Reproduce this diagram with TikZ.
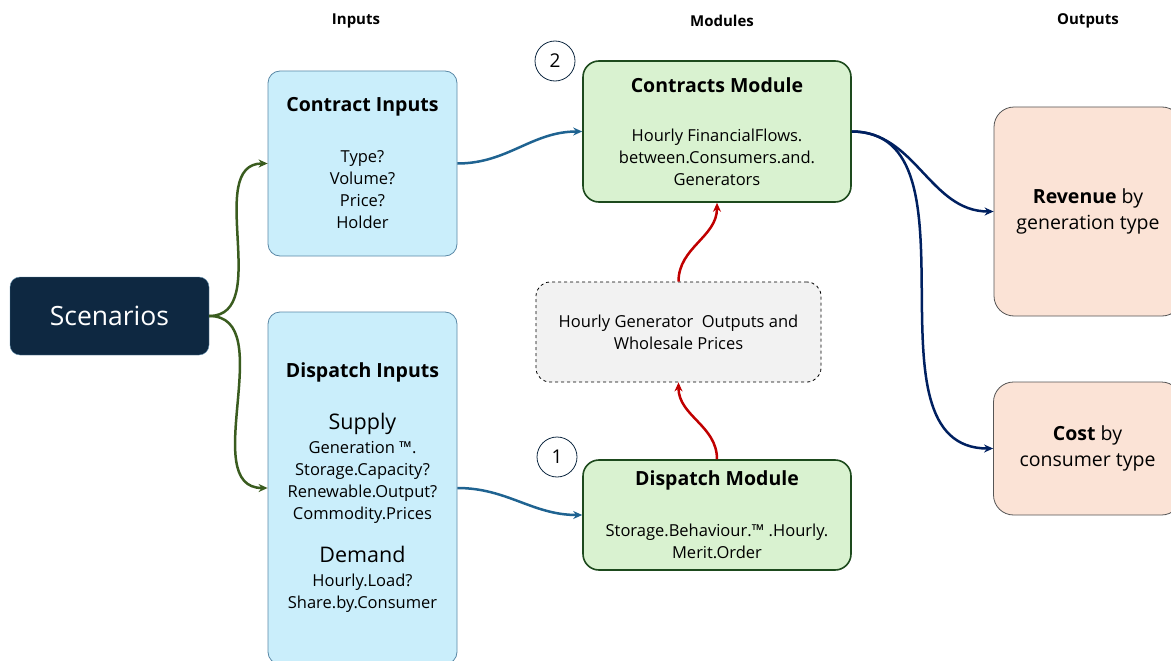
\documentclass[tikz,border=0pt]{standalone}
\usepackage{fontspec}
\usepackage{tikz}
\usepackage{color}
\setmainfont{Open Sans}
\usetikzlibrary{arrows.meta}

\definecolor{scenfill}{HTML}{0E2841}
\definecolor{infill}{HTML}{CAEEFB}
\definecolor{inedge}{HTML}{5A88A6}
\definecolor{modfill}{HTML}{D9F2D0}
\definecolor{modedge}{HTML}{1D4A1D}
\definecolor{outfill}{HTML}{FBE3D6}
\definecolor{outedge}{HTML}{555555}
\definecolor{midfill}{HTML}{F2F2F2}
\definecolor{greenflow}{HTML}{3A5C1F}
\definecolor{blueflow}{HTML}{1F6391}
\definecolor{redflow}{HTML}{C00000}
\definecolor{navyflow}{HTML}{002060}

\begin{document}
\begin{tikzpicture}[x=1pt,y=-1pt,
  inbox/.style={draw=inedge,fill=infill,rounded corners=12pt,line width=0.8pt,
    align=center,inner sep=0pt,minimum width=189pt,
    font=\fontsize{16.5}{22}\selectfont},
  modbox/.style={draw=modedge,fill=modfill,rounded corners=16pt,line width=1.6pt,
    align=center,inner sep=0pt,minimum width=268pt,
    font=\fontsize{16.5}{22}\selectfont},
  outbox/.style={draw=outedge,fill=outfill,rounded corners=20pt,line width=0.8pt,
    align=center,inner sep=0pt,minimum width=188pt,
    font=\fontsize{19.5}{26}\selectfont},
  numcirc/.style={circle,draw=scenfill,line width=0.8pt,minimum size=40pt,
    inner sep=0pt,font=\fontsize{19}{20}\selectfont},
  colhead/.style={font=\bfseries\fontsize{15}{17}\selectfont},
  feed/.style={line width=2.5pt,-{Stealth[length=9pt,width=8pt]}},
  ]
  \useasboundingbox (0,0) rectangle (1171,661);

  \node[colhead] (hin)  at (356,21)  {Inputs};
  \node[colhead] (hmod) at (722,21)  {Modules};
  \node[colhead] (hout) at (1088,21) {Outputs};

  \node[fill=scenfill,draw=inedge,rounded corners=10pt,minimum width=199pt,
    minimum height=78pt,text=white,font=\fontsize{26.5}{30}\selectfont]
    (scen) at (109.5,316) {Scenarios};

  % input boxes
  \node[inbox,minimum height=185pt] (cin) at (362.5,163.5)
    {{\fontsize{19.5}{22}\selectfont\bfseries Contract Inputs}\\[29pt]
     Type?\\Volume?\\Price?\\Holder};
  \node[inbox,minimum height=352pt] (din) at (362.5,488)
    {{\fontsize{19.5}{22}\selectfont\bfseries Dispatch Inputs}\\[30pt]
     {\fontsize{21.5}{22}\selectfont Supply}\\[2pt]
     Generation ™.\\Storage.Capacity?\\Renewable.Output?\\Commodity.Prices\\[21pt]
     {\fontsize{21.5}{22}\selectfont Demand}\\[2pt]
     Hourly.Load?\\Share.by.Consumer};

  % modules
  \node[modbox,minimum height=141pt] (cmod) at (717,131.5)
    {{\fontsize{19.5}{22}\selectfont\bfseries Contracts Module}\\[27pt]
     Hourly FinancialFlows.\\between.Consumers.and.\\Generators};
  \node[modbox,minimum height=110pt] (dmod) at (717,515)
    {{\fontsize{19.5}{22}\selectfont\bfseries Dispatch Module}\\[29pt]
     Storage.Behaviour.™ .Hourly.\\Merit.Order};
  \node[draw,dashed,fill=midfill,rounded corners=14pt,line width=0.8pt,
    minimum width=285pt,minimum height=100pt,align=center,inner sep=0pt,
    font=\fontsize{16.5}{22}\selectfont] (gout) at (678.5,332)
    {Hourly Generator\ \ Outputs and\\Wholesale Prices};

  \node[numcirc] (two) at (555,61) {2};
  \node[numcirc] (one) at (557,457) {1};

  % outputs
  \node[outbox,minimum height=209pt] (rev) at (1088,211.5)
    {\textbf{Revenue} by\\generation type};
  \node[outbox,minimum height=133pt] (cost) at (1087.5,448.5)
    {\textbf{Cost} by\\consumer type};

  % flows
  \draw[feed,greenflow] (scen.east) to[out=0,in=180] (cin.west);
  \draw[feed,greenflow] (scen.east) to[out=0,in=180] (din.west);
  \draw[feed,blueflow] (cin.east) to[out=0,in=180] (cmod.west);
  \draw[feed,blueflow] (din.east) to[out=0,in=180] (dmod.west);
  \draw[feed,redflow] (dmod.north) to[out=90,in=-90] (gout.south);
  \draw[feed,redflow] (gout.north) to[out=90,in=-90] (cmod.south);
  \draw[feed,navyflow] (cmod.east) to[out=0,in=180] (rev.west);
  \draw[feed,navyflow] (cmod.east) to[out=0,in=180] (cost.west);
\end{tikzpicture}
\end{document}
